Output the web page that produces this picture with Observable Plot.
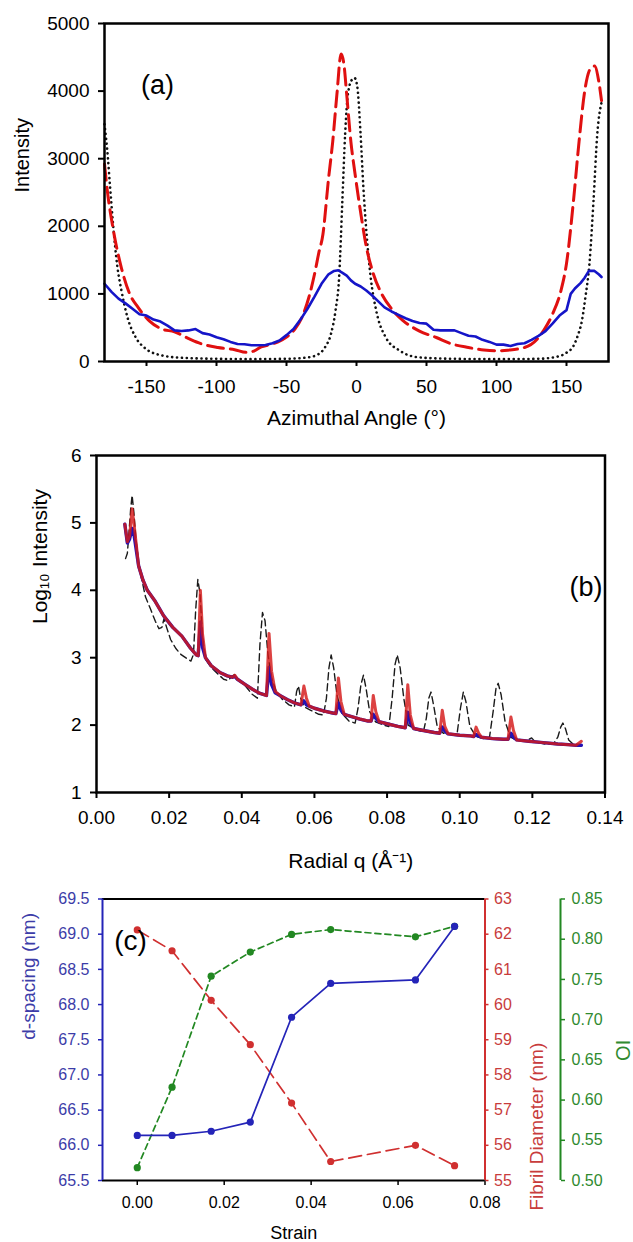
<!DOCTYPE html>
<html><head><meta charset="utf-8">
<script src="https://cdn.jsdelivr.net/npm/d3@7"></script>
<script src="https://cdn.jsdelivr.net/npm/@observablehq/plot@0.6"></script>
<style>
body{margin:0;background:#fff;}
#root{position:relative;width:633px;height:1242px;overflow:hidden;background:#fff;}
#root>div{position:absolute;left:0;}
</style></head><body><div id="root"></div>
<script>
// ---------- Panel (a): azimuthal profiles ----------
const aBlueAngle = [-180,-175,-170,-165,-160,-155,-150,-145,-140,-135,-130,-125,-120,-115,-110,-105,-100,-95,-90,-85,-80,-75,-70,-65,-60,-55,-50,-45,-40,-35,-30,-25,-20,-16,-13,-10,-7,-4,-1,3,7,11,15,20,25,30,35,40,45,50,55,60,65,70,75,80,85,90,95,100,105,110,115,120,125,130,135,140,145,150,153,156,160,163,166,170,173,175];
const aBlueInt   = [1150,1030,930,860,780,700,680,620,590,530,460,450,460,480,420,400,360,330,290,260,255,240,240,245,270,310,390,480,620,780,960,1150,1290,1340,1350,1310,1270,1200,1150,1110,1050,980,900,800,740,690,640,600,570,560,470,460,460,460,420,380,370,320,290,250,250,230,260,270,320,380,450,560,680,760,1000,1080,1160,1240,1340,1340,1290,1250];
const aRedAngle = [-180,-178,-174,-168,-162,-156,-148,-139,-130,-119,-110,-99,-87,-79,-74,-68,-62,-56,-50,-44,-38,-34,-30,-27,-24,-20,-17,-14,-11,-9,-7,-4,-1,3,7,12,18,25,33,45,57,68,80,91,100,108,120,129,134,140,146,150,155,159,163,167,170,173,175];
const aRedInt   = [2920,2530,1980,1390,1000,800,600,480,440,330,256,207,175,135,150,215,250,290,360,480,700,950,1290,1600,1880,2700,3250,3950,4550,4400,3950,3250,2770,2200,1700,1300,1000,780,610,450,355,260,207,170,158,168,207,330,470,700,1045,1450,2380,3260,4000,4330,4370,4150,3860];
const aDotAngle = [-180,-178,-176,-173.7,-170.8,-167.9,-163.6,-157.8,-150.6,-139,-125,-100,-75,-50,-35,-27,-22.5,-18.2,-15,-12.4,-10.1,-8.1,-6.1,-3.2,-1.4,0.6,2.9,4.9,7.2,10.1,14.1,20.8,30.9,45,70,100,130,145,150,155,158,161,163.5,166.4,169.3,172,175];
const aDotInt   = [3510,3120,2580,1990,1400,1050,655,360,190,90,55,40,35,40,60,110,210,410,750,1250,2380,3370,3960,4170,4195,4060,3370,2580,1890,1250,750,360,160,60,40,35,40,80,130,230,380,600,950,1450,2380,3370,3830];
const aXTicks = [-150,-100,-50,0,50,100,150];
const aYTicks = [0,1000,2000,3000,4000,5000];

// ---------- Panel (b): radial profiles ----------
const bQ = [
  0.0078,0.0085,0.0091,0.0098,0.0104,
  0.0116,0.0128,0.0140,0.0160,0.0185,0.0210,0.0235,0.0259,0.0275,0.0280,
  0.0286,0.0292,0.0300,0.0316,0.0340,0.0360,0.0375,0.0381,0.0388,0.0410,0.0430,0.0450,0.0468,
  0.0475,0.0482,0.0492,0.0505,0.0525,0.0545,0.0563,
  0.0571,0.0578,0.0586,0.0600,0.0625,0.0650,0.0659,
  0.0666,0.0673,0.0682,0.0700,0.0725,0.0748,0.0756,
  0.0762,0.0769,0.0778,0.0800,0.0830,0.0850,
  0.0857,0.0864,0.0873,0.0900,0.0930,0.0945,
  0.0952,0.0959,0.0968,0.1000,0.1030,0.1038,
  0.1045,0.1052,0.1060,0.1090,0.1120,0.1133,
  0.1141,0.1148,0.1157,0.1190,0.1230,0.1270,0.1300,0.1320,0.1335];
const bRed = [
  4.98,4.72,4.80,5.21,4.95,
  4.36,4.15,4.00,3.85,3.62,3.45,3.32,3.14,3.04,3.03,
  4.00,3.35,3.00,2.88,2.78,2.73,2.71,2.74,2.68,2.60,2.53,2.47,2.44,
  3.36,2.80,2.50,2.44,2.38,2.33,2.30,
  2.58,2.40,2.28,2.25,2.21,2.18,2.17,
  2.70,2.35,2.16,2.13,2.09,2.06,2.06,
  2.44,2.20,2.05,2.02,1.98,1.96,
  2.60,2.15,1.95,1.92,1.89,1.88,
  2.22,1.98,1.87,1.85,1.84,1.83,
  1.97,1.88,1.82,1.80,1.79,1.79,
  2.12,1.92,1.78,1.76,1.74,1.72,1.71,1.70,1.76];
const bBlue = [
  4.98,4.70,4.76,4.92,4.80,
  4.36,4.15,4.00,3.85,3.62,3.45,3.32,3.14,3.04,3.03,
  3.53,3.15,3.00,2.88,2.78,2.73,2.71,2.72,2.68,2.60,2.53,2.47,2.44,
  2.86,2.60,2.48,2.44,2.38,2.33,2.30,
  2.36,2.30,2.28,2.25,2.21,2.18,2.17,
  2.33,2.22,2.16,2.13,2.09,2.06,2.06,
  2.16,2.10,2.05,2.02,1.98,1.96,
  2.19,2.03,1.95,1.92,1.89,1.88,
  1.97,1.91,1.87,1.85,1.84,1.83,
  1.86,1.84,1.82,1.80,1.79,1.79,
  1.88,1.82,1.78,1.76,1.74,1.72,1.71,1.70,1.70];
const bDashQ = [0.0080,0.0085,0.0090,0.0094,0.0098,0.0103,0.0108,0.0114,0.0121,0.0135,0.0149,0.0162,0.0172,0.0180,0.0186,0.0193,0.0204,0.0218,0.0232,0.0248,0.0260,0.0267,0.0273,0.0279,0.0285,0.0292,0.0300,0.0315,0.0332,0.0350,0.0362,0.0372,0.0380,0.0392,0.0410,0.0428,0.0443,0.0450,0.0457,0.0464,0.0472,0.0482,0.0495,0.0512,0.0530,0.0545,0.0551,0.0556,0.0562,0.0572,0.0590,0.0612,0.0625,0.0633,0.0640,0.0646,0.0653,0.0662,0.0675,0.0695,0.0712,0.0720,0.0728,0.0735,0.0742,0.0752,0.0768,0.0790,0.0805,0.0814,0.0822,0.0828,0.0836,0.0846,0.0858,0.0880,0.0900,0.0908,0.0915,0.0921,0.0928,0.0938,0.0955,0.0980,0.0993,0.1002,0.1010,0.1017,0.1028,0.1045,0.1065,0.1082,0.1092,0.1100,0.1106,0.1114,0.1125,0.1140,0.1160,0.1185,0.1198,0.1208,0.1235,0.1258,0.1270,0.1278,0.1284,0.1291,0.1300,0.1312];
const bDash  = [4.47,4.55,4.90,5.20,5.41,5.15,4.80,4.50,4.25,3.90,3.72,3.54,3.43,3.45,3.58,3.45,3.27,3.14,3.05,2.99,2.95,3.05,3.70,4.16,3.95,3.30,2.98,2.86,2.77,2.68,2.66,2.72,2.75,2.66,2.58,2.46,2.40,3.20,3.67,3.55,3.05,2.70,2.50,2.38,2.30,2.27,2.50,2.58,2.40,2.27,2.22,2.16,2.15,2.40,2.85,3.04,2.85,2.45,2.18,2.06,2.03,2.25,2.60,2.74,2.55,2.20,2.05,2.00,1.98,2.40,2.90,3.04,2.85,2.40,2.00,1.93,1.90,2.10,2.40,2.49,2.30,1.98,1.88,1.86,1.88,2.25,2.49,2.35,1.98,1.83,1.80,1.82,2.20,2.55,2.62,2.45,2.05,1.82,1.77,1.77,1.81,1.75,1.72,1.72,1.82,1.97,2.03,1.95,1.78,1.72];
const bXTicks = [0,0.02,0.04,0.06,0.08,0.10,0.12,0.14];
const bYTicks = [1,2,3,4,5,6];

// ---------- Panel (c): strain series ----------
const strain = [0, 0.008, 0.017, 0.026, 0.0355, 0.0445, 0.064, 0.073];
const dSpacing = [66.14, 66.14, 66.20, 66.33, 67.82, 68.30, 68.35, 69.11];
const fibrilDiameter = [62.12, 61.53, 60.12, 58.86, 57.20, 55.54, 56.00, 55.42];
const orientIndex = [0.516, 0.616, 0.754, 0.784, 0.806, 0.812, 0.803, 0.816];
const cXTicks = [0, 0.02, 0.04, 0.06, 0.08];
const dTicks = [65.5, 66.0, 66.5, 67.0, 67.5, 68.0, 68.5, 69.0, 69.5];
const fdTicks = [55, 56, 57, 58, 59, 60, 61, 62, 63];
const oiTicks = [0.50, 0.55, 0.60, 0.65, 0.70, 0.75, 0.80, 0.85];
const cXDomain = [-0.008, 0.08];
const dDomain = [65.5, 69.5];
const fdDomain = [55, 63];
const oiDomain = [0.50, 0.85];

const FONT = "Liberation Sans, Arial, Helvetica, sans-serif";
const root = document.getElementById("root");
function place(svg, top) { const d = document.createElement("div"); d.style.top = top + "px"; d.appendChild(svg); root.appendChild(d); }
const rows = (xs, ys) => xs.map((x, i) => ({x, y: ys[i]}));
const plain = d => String(d);

// Panel (a)
const chartA = Plot.plot({
  width: 633, height: 440,
  marginTop: 23, marginBottom: 79, marginLeft: 104, marginRight: 25,
  style: {fontFamily: FONT, color: "black", background: "white", overflow: "visible"},
  x: {domain: [-180, 180]},
  y: {domain: [0, 5000]},
  marks: [
    Plot.line(rows(aDotAngle, aDotInt), {x: "x", y: "y", stroke: "#111", strokeWidth: 2.6, strokeDasharray: "0.1,4.8", strokeLinecap: "round", curve: "monotone-x"}),
    Plot.line(rows(aRedAngle, aRedInt), {x: "x", y: "y", stroke: "#e01010", strokeWidth: 3, strokeDasharray: "16,7", curve: "monotone-x"}),
    Plot.line(rows(aBlueAngle, aBlueInt), {x: "x", y: "y", stroke: "#1515c8", strokeWidth: 2.6}),
    Plot.frame({stroke: "black", strokeWidth: 2.5}),
    Plot.axisX(aXTicks, {anchor: "bottom", tickSize: 5, tickPadding: 13, fontSize: 19, strokeWidth: 2, tickFormat: plain, label: null}),
    Plot.axisY(aYTicks, {anchor: "left", tickSize: 6, tickPadding: 9, fontSize: 19, strokeWidth: 2, tickFormat: plain, label: null}),
    Plot.text(["Azimuthal Angle (°)"], {text: d => d, frameAnchor: "bottom", dy: 63, fontSize: 21}),
    Plot.text(["Intensity"], {text: d => d, frameAnchor: "left", rotate: -90, dx: -82, fontSize: 20}),
    Plot.text(["(a)"], {text: d => d, frameAnchor: "top-left", textAnchor: "middle", lineAnchor: "middle", dx: 53, dy: 62, fontSize: 27})
  ]
});
place(chartA, 0);

// Panel (b)
const chartB = Plot.plot({
  width: 633, height: 440,
  marginTop: 15, marginBottom: 88, marginLeft: 96, marginRight: 28.5,
  style: {fontFamily: FONT, color: "black", background: "white", overflow: "visible"},
  x: {domain: [0, 0.14]},
  y: {domain: [1, 6]},
  marks: [
    Plot.line(rows(bDashQ, bDash), {x: "x", y: "y", stroke: "#1a1a1a", strokeWidth: 1.4, strokeDasharray: "7,4"}),
    Plot.line(rows(bQ, bBlue), {x: "x", y: "y", stroke: "#2412b4", strokeWidth: 3.4}),
    Plot.line(rows(bQ, bRed), {x: "x", y: "y", stroke: "#d41818", strokeWidth: 3, strokeOpacity: 0.82}),
    Plot.frame({stroke: "black", strokeWidth: 2.5}),
    Plot.axisX(bXTicks, {anchor: "bottom", tickSize: 6, tickPadding: 12, fontSize: 19, strokeWidth: 2, tickFormat: d3.format(".2f"), label: null}),
    Plot.axisY(bYTicks, {anchor: "left", tickSize: 6, tickPadding: 9, fontSize: 19, strokeWidth: 2, tickFormat: plain, label: null}),
    Plot.text(["Radial q (Å⁻¹)"], {text: d => d, frameAnchor: "bottom", dy: 75, fontSize: 21}),
    Plot.text(["Log₁₀ Intensity"], {text: d => d, frameAnchor: "left", rotate: -90, dx: -56, fontSize: 21}),
    Plot.text(["(b)"], {text: d => d, frameAnchor: "top-right", textAnchor: "middle", lineAnchor: "middle", dx: -19, dy: 132, fontSize: 27})
  ]
});
place(chartB, 440);

// Panel (c)
const BLUE = "#2424b8", RED = "#d03030", GREEN = "#228822";
const BLUE_T = "#3c3ca8", RED_T = "#c83c3c", GREEN_T = "#2f8a2f";
const fdToY = v => dDomain[0] + (v - fdDomain[0]) * (dDomain[1] - dDomain[0]) / (fdDomain[1] - fdDomain[0]);
const oiToY = v => dDomain[0] + (v - oiDomain[0]) * (dDomain[1] - dDomain[0]) / (oiDomain[1] - oiDomain[0]);
const cBlue = rows(strain, dSpacing);
const cRed = rows(strain, fibrilDiameter.map(fdToY));
const cGreen = rows(strain, orientIndex.map(oiToY));
const greenOffset = 75.5;
const chartC = Plot.plot({
  width: 633, height: 362,
  marginTop: 18.5, marginBottom: 62, marginLeft: 102, marginRight: 148.5,
  style: {fontFamily: FONT, color: "black", background: "white", overflow: "visible"},
  x: {domain: cXDomain},
  y: {domain: dDomain},
  marks: [
    Plot.ruleY([dDomain[0], dDomain[1]], {stroke: "black", strokeWidth: 2}),
    Plot.ruleX([cXDomain[0]], {stroke: BLUE, strokeWidth: 2}),
    Plot.ruleX([cXDomain[1]], {stroke: RED, strokeWidth: 2}),
    Plot.ruleX([cXDomain[1]], {y1: dDomain[0], y2: dDomain[1], dx: greenOffset, stroke: GREEN, strokeWidth: 2}),
    Plot.line(cGreen, {x: "x", y: "y", stroke: GREEN, strokeWidth: 1.7, strokeDasharray: "6,4"}),
    Plot.dot(cGreen, {x: "x", y: "y", r: 3.6, fill: GREEN}),
    Plot.line(cRed, {x: "x", y: "y", stroke: RED, strokeWidth: 1.7, strokeDasharray: "13,6"}),
    Plot.dot(cRed, {x: "x", y: "y", r: 3.6, fill: RED}),
    Plot.line(cBlue, {x: "x", y: "y", stroke: BLUE, strokeWidth: 1.7}),
    Plot.dot(cBlue, {x: "x", y: "y", r: 3.6, fill: BLUE}),
    Plot.axisX(cXTicks, {anchor: "bottom", tickSize: 5, tickPadding: 11, fontSize: 16, strokeWidth: 1.5, tickFormat: d3.format(".2f"), label: null}),
    Plot.axisY(dTicks, {anchor: "left", tickSize: 4, tickPadding: 9, fontSize: 16, stroke: BLUE, fill: BLUE_T, strokeWidth: 1.5, tickFormat: d3.format(".1f"), label: null}),
    Plot.axisY(fdTicks.map(fdToY), {anchor: "right", tickSize: 3, tickPadding: 6, fontSize: 16, stroke: RED, fill: RED_T, strokeWidth: 1.5, tickFormat: (d, i) => String(fdTicks[i]), label: null}),
    Plot.axisY(oiTicks.map(oiToY), {anchor: "right", dx: greenOffset, tickSize: 4, tickPadding: 7, fontSize: 16, stroke: GREEN, fill: GREEN_T, strokeWidth: 1.5, tickFormat: (d, i) => oiTicks[i].toFixed(2), label: null}),
    Plot.text(["Strain"], {text: d => d, frameAnchor: "bottom", dy: 58, fontSize: 18}),
    Plot.text(["d-spacing (nm)"], {text: d => d, frameAnchor: "left", rotate: -90, dx: -73.5, fontSize: 19, fill: BLUE_T}),
    Plot.text(["Fibril Diameter (nm)"], {text: d => d, frameAnchor: "right", rotate: -90, dx: 51.5, dy: 3, fontSize: 19, fill: RED_T}),
    Plot.text(["OI"], {text: d => d, frameAnchor: "right", rotate: -90, dx: 138.5, fontSize: 20, fill: GREEN_T}),
    Plot.text(["(c)"], {text: d => d, frameAnchor: "top-left", textAnchor: "middle", lineAnchor: "middle", dx: 28, dy: 42, fontSize: 28})
  ]
});
place(chartC, 880);
</script></body></html>
